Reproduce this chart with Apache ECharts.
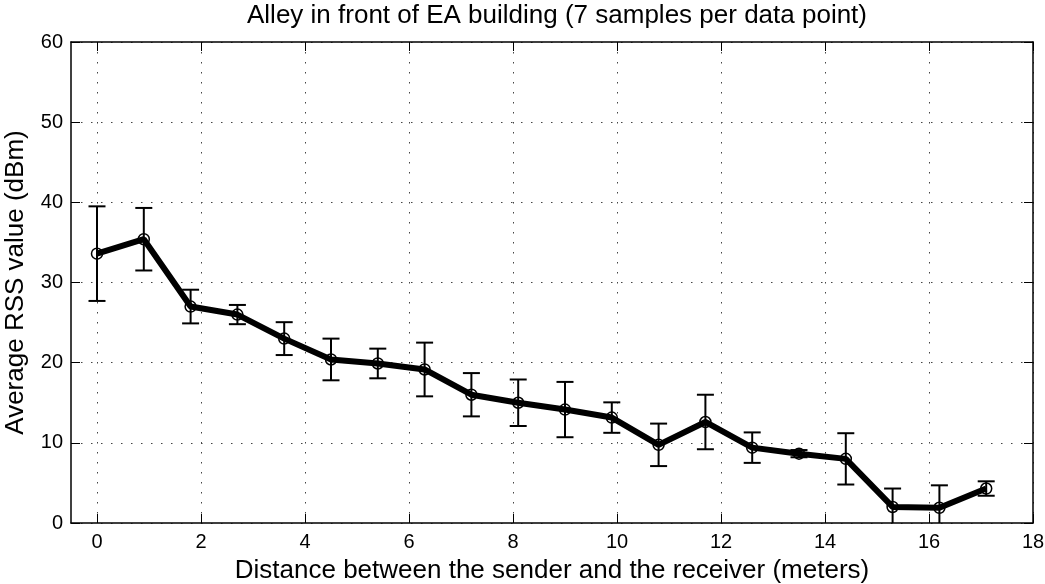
<!DOCTYPE html>
<html>
<head>
<meta charset="utf-8">
<script src="https://cdn.jsdelivr.net/npm/echarts@6/dist/echarts.min.js"></script>
<style>
  html, body { margin: 0; padding: 0; background: #fff; }
  #chart { width: 1045px; height: 584px; }
</style>
</head>
<body>
<div id="chart"></div>
<script>
// Distance between sender and receiver (meters)
const distances = [0, 0.9, 1.8, 2.7, 3.6, 4.5, 5.4, 6.3, 7.2, 8.1, 9.0, 9.9, 10.8, 11.7, 12.6, 13.5, 14.4, 15.3, 16.2, 17.1];
// Mean RSS (dBm) over 7 samples at each distance
const meanRss = [33.6, 35.4, 27.0, 26.0, 23.0, 20.4, 19.9, 19.15, 16.0, 15.0, 14.15, 13.15, 9.75, 12.6, 9.4, 8.65, 8.0, 2.0, 1.9, 4.3];
// Error bar half-length (dBm)
const rssError = [5.9, 3.9, 2.1, 1.2, 2.05, 2.6, 1.85, 3.35, 2.7, 2.9, 3.45, 1.9, 2.65, 3.4, 1.9, 0.45, 3.2, 2.3, 2.8, 0.9];

const xTicks = [0, 2, 4, 6, 8, 10, 12, 14, 16, 18];
const yTicks = [0, 10, 20, 30, 40, 50, 60];

const FONT = "'Liberation Sans', Arial, Helvetica, sans-serif";

const lineData = distances.map((d, i) => [d, meanRss[i]]);
const errData = distances.map((d, i) => [d, meanRss[i] - rssError[i], meanRss[i] + rssError[i]]);

const chart = echarts.init(document.getElementById('chart'), null, { renderer: 'canvas' });

const dotted = { color: '#444', width: 1, type: [1.5, 8.5] };

const baseX = {
  type: 'value', min: -0.5, max: 18, interval: 2,
  axisLine: { show: true, onZero: false, lineStyle: { color: '#000', width: 1.5 } },
  axisTick: { show: true, inside: true, length: 9, lineStyle: { color: '#000', width: 1 },
    customValues: xTicks },
  splitLine: { show: false }
};
const baseY = {
  type: 'value', min: 0, max: 60, interval: 10,
  axisLine: { show: true, onZero: false, lineStyle: { color: '#000', width: 1.5 } },
  axisTick: { show: true, inside: true, length: 9, lineStyle: { color: '#000', width: 1 },
    customValues: yTicks },
  splitLine: { show: false }
};

chart.setOption({
  animation: false,
  backgroundColor: '#fff',
  title: {
    text: 'Alley in front of EA building (7 samples per data point)',
    left: 552, top: -2, textAlign: 'center',
    textStyle: { fontFamily: FONT, fontSize: 26, fontWeight: 'normal', color: '#000' }
  },
  grid: { left: 71, right: 12, top: 42, bottom: 61, containLabel: false, outerBoundsMode: 'none' },
  xAxis: [
    Object.assign({}, baseX, {
      position: 'bottom',
      name: 'Distance between the sender and the receiver (meters)',
      nameLocation: 'middle', nameGap: 35,
      nameTextStyle: { fontFamily: FONT, fontSize: 26, color: '#000' },
      axisLabel: { show: true, fontFamily: FONT, fontSize: 20, color: '#000', margin: 9,
        customValues: xTicks },
      splitLine: { show: true, lineStyle: dotted }
    }),
    Object.assign({}, baseX, { position: 'top', axisLabel: { show: false } })
  ],
  yAxis: [
    Object.assign({}, baseY, {
      position: 'left',
      name: 'Average RSS value (dBm)',
      nameLocation: 'middle', nameGap: 42, nameRotate: 90,
      nameTextStyle: { fontFamily: FONT, fontSize: 26, color: '#000' },
      axisLabel: { show: true, fontFamily: FONT, fontSize: 20, color: '#000', margin: 8,
        customValues: yTicks },
      splitLine: { show: true, lineStyle: dotted }
    }),
    Object.assign({}, baseY, { position: 'right', axisLabel: { show: false } })
  ],
  series: [
    {
      type: 'custom',
      name: 'error',
      xAxisIndex: 0, yAxisIndex: 0,
      z: 2,
      data: errData,
      renderItem: function (params, api) {
        const x = api.value(0);
        const lo = api.coord([x, api.value(1)]);
        const hi = api.coord([x, api.value(2)]);
        const cs = params.coordSys;
        const bottom = cs.y + cs.height;
        const top = cs.y;
        const half = 8.5;
        const yLo = Math.min(lo[1], bottom);
        const yHi = Math.max(hi[1], top);
        const style = { stroke: '#000', lineWidth: 2, fill: null };
        const children = [
          { type: 'line', shape: { x1: lo[0], y1: yLo, x2: hi[0], y2: yHi }, style: style }
        ];
        if (hi[1] >= top) {
          children.push({ type: 'line', shape: { x1: hi[0] - half, y1: hi[1], x2: hi[0] + half, y2: hi[1] }, style: style });
        }
        if (lo[1] <= bottom) {
          children.push({ type: 'line', shape: { x1: lo[0] - half, y1: lo[1], x2: lo[0] + half, y2: lo[1] }, style: style });
        }
        return { type: 'group', children: children };
      }
    },
    {
      type: 'line',
      name: 'RSS',
      xAxisIndex: 0, yAxisIndex: 0,
      z: 3,
      data: lineData,
      lineStyle: { color: '#000', width: 6 },
      symbol: 'circle',
      symbolSize: 11,
      itemStyle: { color: 'rgba(0,0,0,0)', borderColor: '#000', borderWidth: 1.5 }
    }
  ]
});
</script>
</body>
</html>
